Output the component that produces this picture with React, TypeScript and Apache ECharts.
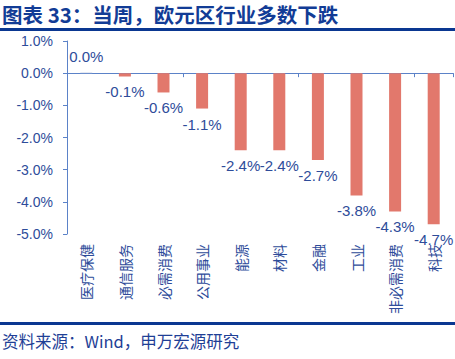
import React, { useEffect, useRef } from "react";
import * as echarts from "echarts";

const categories = ["医疗保健", "通信服务", "必需消费", "公用事业", "能源", "材料", "金融", "工业", "非必需消费", "科技"];
const values = [0.02, -0.1, -0.6, -1.1, -2.4, -2.4, -2.7, -3.8, -4.3, -4.7];
const yTicks = { min: -5, max: 1, interval: 1 };
const titleText = "图表 33：当周，欧元区行业多数下跌";
const sourceText = "资料来源：Wind，申万宏源研究";

const FONT = "'Liberation Sans', Arial, 'Noto Sans CJK SC', sans-serif";
const CJK = "'Noto Sans CJK SC', 'Liberation Sans', sans-serif";
const BLUE_TXT = "#2E4C9A";
const AXIS_BLUE = "#5B82C8";
const DARK = "#0A3791";

export default function App() {
  const ref = useRef<HTMLDivElement>(null);
  useEffect(() => {
    if (!ref.current) return;
    const chart = echarts.init(ref.current, undefined, { renderer: "svg" });
    chart.setOption({
      animation: false,
      backgroundColor: "#ffffff",
      title: {
        text: titleText,
        left: 2,
        top: 2,
        padding: 0,
        textStyle: { fontFamily: CJK, fontWeight: "bold", fontSize: 20.5, color: "#123C96", lineHeight: 24 },
      },
      grid: { left: 67, right: 2, top: 41, bottom: 125, containLabel: false },
      graphic: [
        {
          type: "rect",
          shape: { x: 0, y: 28, width: 455, height: 3 },
          style: { fill: DARK },
        },
        {
          type: "rect",
          shape: { x: 0, y: 322, width: 455, height: 3 },
          style: { fill: DARK },
        },
        {
          type: "text",
          left: 2,
          top: 333,
          style: { text: sourceText, font: `16.5px ${CJK}`, fill: "#1F3F96" },
        },
      ],
      xAxis: [
        {
          type: "category",
          data: categories,
          position: "bottom",
          axisLine: { show: false, onZero: false },
          axisTick: { show: false },
          axisLabel: {
            rotate: 90,
            interval: 0,
            margin: 10,
            color: BLUE_TXT,
            fontSize: 14,
            fontFamily: CJK,
          },
        },
        {
          type: "category",
          data: categories,
          position: "top",
          axisLine: { show: true, onZero: true, lineStyle: { color: AXIS_BLUE, width: 1 } },
          axisTick: { show: true, inside: true, length: 4, lineStyle: { color: AXIS_BLUE } },
          axisLabel: { show: false },
        },
      ],
      yAxis: {
        type: "value",
        min: yTicks.min,
        max: yTicks.max,
        interval: yTicks.interval,
        axisLine: { show: true, lineStyle: { color: AXIS_BLUE, width: 1 } },
        axisTick: { show: true, length: 4, lineStyle: { color: AXIS_BLUE } },
        splitLine: { show: false },
        axisLabel: {
          margin: 14,
          color: BLUE_TXT,
          fontSize: 14,
          fontFamily: FONT,
          formatter: (v: number) => v.toFixed(1) + "%",
        },
      },
      series: [
        {
          type: "bar",
          xAxisIndex: 0,
          data: values.map((v) =>
            v >= 0 ? { value: v, label: { position: "top", distance: 9 } } : v
          ),
          barWidth: 12,
          itemStyle: {
            color: (p: any) => (p.value >= 0.05 || p.value < 0 ? "#E2786C" : "#C9D1E3"),
          },
          label: {
            show: true,
            position: "bottom",
            distance: 8,
            color: BLUE_TXT,
            fontSize: 15,
            fontFamily: FONT,
            formatter: (p: any) => p.value.toFixed(1) + "%",
          },
        },
      ],
    });
    return () => chart.dispose();
  }, []);
  return <div ref={ref} style={{ width: 455, height: 359, position: "absolute", left: 0, top: 0 }} />;
}
